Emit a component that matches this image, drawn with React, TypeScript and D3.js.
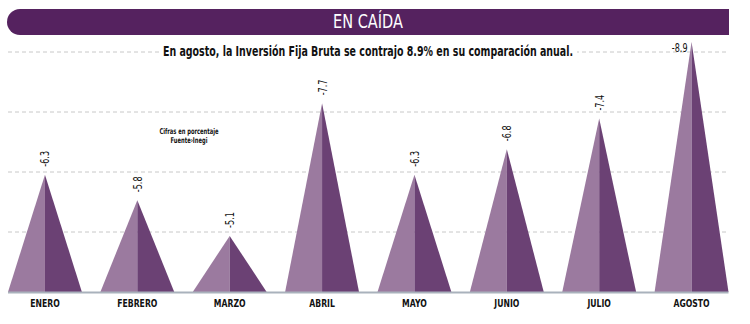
import React from "react";
import * as d3 from "d3";

const months = ["ENERO", "FEBRERO", "MARZO", "ABRIL", "MAYO", "JUNIO", "JULIO", "AGOSTO"];
const values = [-6.3, -5.8, -5.1, -7.7, -6.3, -6.8, -7.4, -8.9];
const valueLabels = ["-6.3", "-5.8", "-5.1", "-7.7", "-6.3", "-6.8", "-7.4", "-8.9"];
const gridSteps = [1, 2, 3, 4];

const title = "EN CAÍDA";
const subtitle = "En agosto, la Inversión Fija Bruta se contrajo 8.9% en su comparación anual.";
const noteLines = ["Cifras en porcentaje", "Fuente›Inegi"];

const W = 750;
const H = 324;
const FONT = "'DejaVu Sans Condensed', 'DejaVu Sans', sans-serif";
const LIGHT = "#9b7a9f";
const DARK = "#6b4174";
const BAR = "#55225f";
const SQ = 0.78;

export default function App() {
  const baseY = 292;
  const x = d3.scaleBand<string>().domain(months).range([8, 728.5]).paddingInner(0.2).paddingOuter(0);
  const y = d3.scaleLinear().domain([4, 9]).range([baseY, 37]);
  const grid = d3.scaleLinear().domain([0, 4]).range([baseY, 52]);

  const poly = (pts: [number, number][]) => d3.line()(pts.concat([pts[0]])) as string;

  return (
    <svg width={W} height={H} style={{ position: "absolute", left: 0, top: 0, background: "#fff" }} fontFamily={FONT}>
      {/* title bar */}
      <path d={`M${7 + 13},9 H729 V35 H${7 + 13} A13,13 0 0 1 ${7 + 13},9 Z`} fill={BAR} />
      <text
        transform={`translate(368,22) scale(0.85,1)`}
        textAnchor="middle"
        dominantBaseline="central"
        fill="#fff"
        fontSize={19}
        fontWeight={400}
      >
        {title}
      </text>

      {/* grid */}
      {gridSteps.map((g) => (
        <line key={g} x1={8} x2={729} y1={grid(g)} y2={grid(g)} stroke="#c8c8c8" strokeWidth={1} strokeDasharray="4 3" />
      ))}

      {/* subtitle */}
      <rect x={160} y={43} width={417} height={18} fill="#fff" />
      <text
        transform={`translate(368,52) scale(${SQ},1)`}
        textAnchor="middle"
        dominantBaseline="central"
        fontSize={13.5}
        fontWeight={600}
        fill="#111"
      >
        {subtitle}
      </text>

      {/* note */}
      {noteLines.map((t, i) => (
        <text
          key={i}
          transform={`translate(189,${132 + i * 9}) scale(0.72,1)`}
          textAnchor="middle"
          dominantBaseline="central"
          fontSize={8}
          fontWeight={600}
          fill="#111"
        >
          {t}
        </text>
      ))}

      {/* triangles */}
      {months.map((m, i) => {
        const x0 = x(m) as number;
        const x1 = x0 + x.bandwidth();
        const xc = x0 + x.bandwidth() / 2;
        const py = y(Math.abs(values[i]));
        return (
          <g key={m}>
            <path d={poly([[x0, baseY], [xc, py], [xc, baseY]])} fill={LIGHT} />
            <path d={poly([[xc, baseY], [xc, py], [x1, baseY]])} fill={DARK} />
          </g>
        );
      })}

      {/* baseline */}
      <line x1={8} x2={728.5} y1={baseY + 0.5} y2={baseY + 0.5} stroke="#a9b2bc" strokeWidth={2} />

      {/* value labels */}
      {months.map((m, i) => {
        const xc = (x(m) as number) + x.bandwidth() / 2;
        const py = y(Math.abs(values[i]));
        if (i === months.length - 1) {
          return (
            <text
              key={m}
              transform={`translate(${xc - 4},${py + 5}) scale(${SQ},1)`}
              textAnchor="end"
              dominantBaseline="central"
              fontSize={11.5}
              fill="#111"
            >
              {valueLabels[i]}
            </text>
          );
        }
        return (
          <text
            key={m}
            transform={`translate(${xc},${py - 8}) rotate(-90) scale(${SQ},1)`}
            textAnchor="start"
            dominantBaseline="central"
            fontSize={11.5}
            fill="#111"
          >
            {valueLabels[i]}
          </text>
        );
      })}

      {/* month labels */}
      {months.map((m) => (
        <text
          key={m}
          transform={`translate(${(x(m) as number) + x.bandwidth() / 2},303) scale(${SQ},1)`}
          textAnchor="middle"
          dominantBaseline="central"
          fontSize={11}
          fontWeight={600}
          fill="#111"
        >
          {m}
        </text>
      ))}
    </svg>
  );
}
